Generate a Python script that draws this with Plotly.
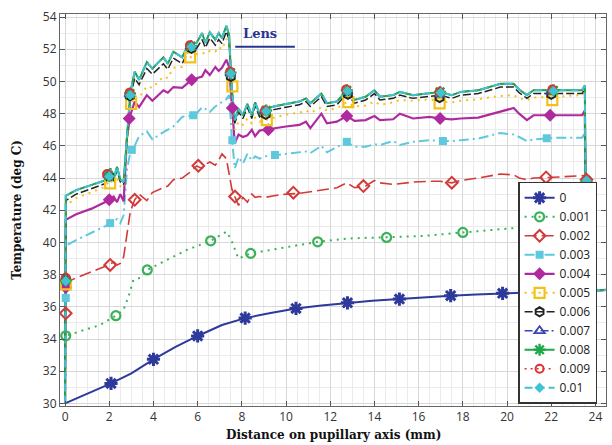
import plotly.graph_objects as go

# ---------------- data ----------------
SERIES_NAMES = ["0", "0.001", "0.002", "0.003", "0.004", "0.005",
                "0.006", "0.007", "0.008", "0.009", "0.01"]

X_TICKS = [0, 2, 4, 6, 8, 10, 12, 14, 16, 18, 20, 22, 24]
Y_TICKS = [30, 32, 34, 36, 38, 40, 42, 44, 46, 48, 50, 52, 54]

X_TITLE = "Distance on pupillary axis (mm)"
Y_TITLE = "Temperature (deg C)"

# series "0"
X_S0 = [0.0, 1.0, 2.08, 3.0, 4.0, 5.0, 6.0, 7.1, 8.15, 9.3, 10.45, 11.6,
        12.78, 13.9, 15.13, 16.3, 17.45, 18.6, 19.8, 21.0, 22.2, 23.6, 24.48]
Y_S0 = [30.0, 30.6, 31.24, 31.87, 32.74, 33.52, 34.19, 34.87, 35.3, 35.62,
        35.9, 36.08, 36.25, 36.38, 36.48, 36.6, 36.69, 36.77, 36.84, 36.9,
        36.95, 37.0, 37.05]

# series "0.001"
X_S1 = [0.0, 0.03, 0.5, 1.58, 2.3, 2.64, 2.87, 3.09, 3.39, 3.72, 4.3, 4.9,
        5.5, 6.59, 7.31, 7.54, 7.84, 8.4, 9.13, 9.87, 11.43, 12.9, 14.55,
        16.2, 18.0, 19.2, 20.4, 22.0, 23.55, 23.6, 24.48]
Y_S1 = [30.0, 34.2, 34.4, 34.87, 35.45, 35.8, 36.63, 37.67, 37.8, 38.29,
        38.7, 39.1, 39.53, 40.1, 40.67, 40.1, 39.0, 39.32, 39.5, 39.7, 40.04,
        40.25, 40.31, 40.4, 40.62, 40.77, 40.9, 41.0, 41.1, 37.0, 37.05]

# shared distance grid for series 0.002 ... 0.01
X_UP = [0.0, 0.03, 0.5, 1.2, 1.8, 2.05, 2.2, 2.35, 2.5, 2.65,
        2.8, 2.95, 3.15, 3.35, 3.7, 3.95, 4.45, 4.65, 4.9, 5.3,
        5.6, 5.95, 6.2, 6.35, 6.55, 6.8, 6.95, 7.1, 7.3, 7.42,
        7.55, 7.68, 7.85, 8.05, 8.25, 8.45, 8.6, 8.8, 9.05, 9.45,
        10.0, 10.6, 10.9, 11.1, 11.6, 11.85, 12.3, 12.75, 13.1, 13.6,
        14.0, 14.25, 14.85, 15.15, 15.75, 16.5, 16.97, 17.5, 17.9, 18.7,
        19.7, 20.3, 20.55, 20.9, 21.2, 22.1, 23.4, 23.52, 23.6, 24.48]

Y_S2 = [30.0, 37.5, 37.8, 38.2, 38.5, 38.65, 38.8, 38.6, 38.7, 39.1,
        40.5, 41.9, 42.65, 43.0, 42.6, 43.1, 43.4, 43.5, 43.9, 44.0,
        44.3, 44.75, 44.6, 44.85, 45.0, 44.8, 45.1, 45.5, 45.2, 44.3,
        43.3, 42.85, 42.3, 42.8, 42.5, 43.0, 42.8, 42.85, 42.8, 42.9,
        43.0, 43.05, 43.1, 43.15, 43.25, 43.3, 43.4, 43.7, 43.4, 43.5,
        43.85, 43.7, 43.6, 43.65, 43.75, 43.8, 43.8, 43.7, 43.85, 44.0,
        44.25, 44.2, 44.0, 43.9, 44.0, 44.05, 44.1, 44.15, 37.0, 37.05]

Y_S3 = [30.0, 39.8, 40.15, 40.6, 41.0, 41.2, 41.3, 41.45, 41.2, 41.7,
        44.5, 45.6, 46.0, 46.6, 46.9, 46.4, 46.85, 47.0, 47.2, 47.8,
        47.85, 48.0, 48.4, 48.3, 48.1, 48.45, 48.6, 48.7, 48.9, 49.15,
        46.5, 44.6, 45.3, 44.9, 45.5, 45.1, 45.35, 45.2, 45.35, 45.4,
        45.5, 45.6, 45.65, 45.55, 46.0, 45.6, 45.9, 46.25, 45.95, 45.95,
        46.1, 46.05, 46.3, 46.05, 46.25, 46.35, 46.3, 46.3, 46.35, 46.45,
        46.8, 46.7, 46.55, 46.3, 46.4, 46.5, 46.5, 46.8, 37.0, 37.05]

Y_S4 = [30.0, 41.4, 41.75, 42.1, 42.5, 42.75, 42.85, 42.5, 43.0, 42.55,
        46.5, 47.9, 48.75, 48.4, 49.15, 48.8, 49.45, 49.3, 49.65, 49.6,
        49.95, 50.2, 50.3, 50.7, 50.4, 50.9, 50.65, 50.85, 51.35, 50.9,
        48.2, 46.15, 46.7, 46.55, 46.65, 47.0, 46.6, 46.95, 47.0, 47.1,
        47.2, 47.3, 47.5, 47.1, 48.0, 47.4, 47.5, 47.85, 47.55, 47.6,
        47.85, 47.6, 47.65, 48.0, 47.7, 47.8, 47.7, 47.65, 47.7, 47.75,
        48.1, 48.35, 48.0, 47.6, 47.9, 47.9, 47.9, 48.2, 37.0, 37.05]

Y_S5 = [30.0, 42.3, 42.75, 43.15, 43.45, 43.9, 43.55, 44.0, 43.5, 43.4,
        45.8, 48.5, 49.1, 49.0, 49.7, 49.6, 50.3, 50.2, 50.85, 50.9,
        51.45, 51.7, 51.8, 51.7, 51.9, 51.85, 52.15, 52.0, 52.65, 52.2,
        49.0, 47.0, 47.5, 47.3, 47.7, 47.4, 47.75, 47.5, 47.6, 47.75,
        47.95, 48.05, 48.2, 48.05, 48.4, 48.2, 48.35, 48.7, 48.45, 48.5,
        48.75, 48.55, 48.7, 48.85, 48.8, 48.9, 48.75, 48.7, 48.8, 48.9,
        49.1, 49.15, 48.95, 48.85, 49.0, 49.05, 49.15, 49.4, 37.0, 37.05]

Y_S6 = [30.0, 42.6, 43.0, 43.35, 43.65, 44.4, 43.8, 44.5, 43.75, 43.6,
        46.2, 49.0, 50.2, 49.8, 50.8, 50.45, 51.1, 50.75, 51.45, 51.1,
        52.0, 52.05, 52.6, 52.1, 52.7, 52.25, 52.6, 52.35, 53.1, 52.6,
        49.3, 47.4, 48.1, 47.7, 48.4, 47.7, 48.5, 47.8, 48.05, 48.25,
        48.4, 48.55, 48.75, 48.45, 49.05, 48.45, 48.55, 49.25, 48.65, 48.85,
        49.25, 48.85, 48.95, 49.15, 48.95, 49.1, 49.15, 48.95, 49.15, 49.25,
        49.65, 49.65, 49.3, 48.95, 49.25, 49.25, 49.25, 49.55, 37.0, 37.05]

# series 0.007 ... 0.01 lie on top of each other (the top curve)
Y_TOP = [30.0, 42.9, 43.25, 43.55, 43.85, 44.6, 43.95, 44.7, 43.9, 43.75,
         46.5, 49.3, 50.6, 50.1, 51.2, 50.8, 51.5, 51.1, 51.85, 51.5,
         52.35, 52.4, 53.0, 52.4, 53.05, 52.6, 53.0, 52.7, 53.45, 52.9,
         49.5, 47.6, 48.3, 47.9, 48.6, 47.9, 48.7, 48.0, 48.25, 48.45,
         48.6, 48.75, 48.95, 48.65, 49.25, 48.65, 48.75, 49.45, 48.85, 49.05,
         49.45, 49.05, 49.15, 49.35, 49.15, 49.3, 49.35, 49.15, 49.35, 49.45,
         49.85, 49.85, 49.5, 49.15, 49.45, 49.45, 49.45, 49.75, 37.0, 37.05]

# marker points of each series
MX = {
    "0":     [2.08, 4.0, 6.0, 8.15, 10.45, 12.78, 15.13, 17.45, 19.8, 22.2],
    "0.001": [0.03, 2.3, 3.72, 6.59, 8.4, 11.43, 14.55, 18.0, 21.3],
    "0.002": [0.03, 2.04, 3.15, 6.03, 7.69, 10.33, 13.5, 17.5, 21.77, 23.6],
    "0.003": [0.03, 2.04, 3.02, 5.8, 7.57, 9.5, 12.75, 17.1, 21.8, 23.6],
    "0.004": [0.03, 2.0, 2.9, 5.73, 7.57, 9.2, 12.75, 16.97, 21.95, 23.6],
    "0.005": [0.03, 2.04, 2.99, 5.66, 7.57, 9.13, 12.82, 16.95, 22.05, 23.6],
    "0.006": [0.03, 2.0, 2.93, 5.72, 7.5, 9.08, 12.8, 16.95, 22.0, 23.6],
    "0.007": [0.03, 1.95, 2.92, 5.68, 7.48, 9.05, 12.78, 16.95, 22.0, 23.6],
    "0.008": [0.03, 1.97, 2.94, 5.7, 7.49, 9.1, 12.75, 16.97, 22.1, 23.6],
    "0.009": [0.03, 1.9, 2.92, 5.65, 7.47, 9.05, 12.72, 16.95, 22.05, 23.6],
    "0.01":  [0.03, 2.0, 2.95, 5.72, 7.5, 9.1, 12.78, 17.0, 22.1, 23.6],
}
MY = {
    "0":     [31.24, 32.74, 34.19, 35.3, 35.9, 36.25, 36.48, 36.69, 36.84, 36.95],
    "0.001": [34.2, 35.45, 38.29, 40.1, 39.32, 40.04, 40.31, 40.62, 40.95],
    "0.002": [35.6, 38.6, 42.65, 44.76, 42.85, 43.09, 43.5, 43.71, 44.04, 43.9],
    "0.003": [36.55, 41.2, 45.75, 47.9, 46.35, 45.43, 46.25, 46.3, 46.47, 43.75],
    "0.004": [37.2, 42.65, 47.7, 50.1, 48.35, 47.0, 47.85, 47.7, 47.9, 43.2],
    "0.005": [37.4, 43.67, 48.6, 51.5, 49.7, 47.6, 48.72, 48.64, 48.84, 43.45],
    "0.006": [37.7, 44.1, 49.1, 52.05, 50.3, 47.95, 49.2, 49.0, 49.2, 43.7],
    "0.007": [37.75, 44.2, 49.2, 52.15, 50.5, 48.15, 49.35, 49.2, 49.35, 43.8],
    "0.008": [37.65, 44.15, 49.25, 52.2, 50.55, 48.2, 49.45, 49.35, 49.45, 43.8],
    "0.009": [37.8, 44.25, 49.3, 52.25, 50.6, 48.2, 49.5, 49.35, 49.5, 43.9],
    "0.01":  [37.6, 44.1, 49.15, 52.15, 50.5, 48.15, 49.4, 49.3, 49.4, 43.85],
}

LENS_LABEL = "Lens"
LENS_X = [7.7, 10.4]
LENS_Y = 52.15
LENS_TEXT_POS = (8.8, 52.95)

# ---------------- styles ----------------
LINES = {
    "0":     (X_S0, Y_S0),
    "0.001": (X_S1, Y_S1),
    "0.002": (X_UP, Y_S2),
    "0.003": (X_UP, Y_S3),
    "0.004": (X_UP, Y_S4),
    "0.005": (X_UP, Y_S5),
    "0.006": (X_UP, Y_S6),
    "0.007": (X_UP, Y_TOP),
    "0.008": (X_UP, Y_TOP),
    "0.009": (X_UP, Y_TOP),
    "0.01":  (X_UP, Y_TOP),
}

STYLE = {
    "0":     dict(color="#2e3a9b", dash="solid", width=2.0, symbol="asterisk-open", size=11, mlw=3.0),
    "0.001": dict(color="#3bb25a", dash="2px,5px", width=2.0, symbol="circle-open", size=9, mlw=2.2),
    "0.002": dict(color="#d23a3a", dash="12px,5px", width=1.6, symbol="diamond-open", size=9, mlw=2.0),
    "0.003": dict(color="#5ec8dc", dash="10px,4px,2px,4px", width=2.0, symbol="square", size=8, mlw=0),
    "0.004": dict(color="#b02a9f", dash="solid", width=2.2, symbol="diamond", size=10, mlw=0),
    "0.005": dict(color="#f2c21b", dash="2px,5px", width=2.0, symbol="square-open", size=10, mlw=2.2),
    "0.006": dict(color="#222222", dash="8px,3px", width=1.5, symbol="hexagon-open", size=9, mlw=2.0),
    "0.007": dict(color="#3a44b0", dash="8px,3px,2px,3px", width=1.5, symbol="triangle-up-open", size=9, mlw=1.8),
    "0.008": dict(color="#1fa84a", dash="solid", width=2.0, symbol="asterisk-open", size=10, mlw=2.4),
    "0.009": dict(color="#e03030", dash="2px,4px", width=1.5, symbol="circle-open", size=8, mlw=2.0),
    "0.01":  dict(color="#3fc3d3", dash="8px,4px", width=2.0, symbol="diamond", size=8, mlw=0),
}

fig = go.Figure()

# curves
for name in SERIES_NAMES:
    xs, ys = LINES[name]
    s = STYLE[name]
    fig.add_trace(go.Scatter(
        x=xs, y=ys, mode="lines", showlegend=False, hoverinfo="skip",
        line=dict(color=s["color"], dash=s["dash"], width=s["width"]),
    ))

# markers
for name in SERIES_NAMES:
    s = STYLE[name]
    fig.add_trace(go.Scatter(
        x=MX[name], y=MY[name], mode="markers", showlegend=False, hoverinfo="skip",
        marker=dict(symbol=s["symbol"], size=s["size"], color=s["color"],
                    line=dict(color=s["color"], width=s["mlw"])),
    ))

# legend entries
for name in SERIES_NAMES:
    s = STYLE[name]
    fig.add_trace(go.Scatter(
        x=[None], y=[None], mode="lines+markers", name=name,
        line=dict(color=s["color"], dash=s["dash"], width=s["width"]),
        marker=dict(symbol=s["symbol"], size=s["size"], color=s["color"],
                    line=dict(color=s["color"], width=s["mlw"])),
    ))

# Lens annotation
fig.add_shape(type="line", x0=LENS_X[0], x1=LENS_X[1], y0=LENS_Y, y1=LENS_Y,
              xref="x", yref="y", line=dict(color="#2b3590", width=2))
fig.add_annotation(x=LENS_TEXT_POS[0], y=LENS_TEXT_POS[1], xref="x", yref="y",
                   text="<b>" + LENS_LABEL + "</b>", showarrow=False,
                   font=dict(family="DejaVu Serif", size=13, color="#2b3590"))

# axis titles
title_font = dict(family="DejaVu Serif", size=12, color="#111111")
fig.add_annotation(x=0.5, y=-0.074, xref="paper", yref="paper",
                   xanchor="center", yanchor="middle", showarrow=False,
                   text="<b>" + X_TITLE + "</b>", font=title_font)
fig.add_annotation(x=-0.079, y=0.5, xref="paper", yref="paper",
                   xanchor="center", yanchor="middle", showarrow=False, textangle=-90,
                   text="<b>" + Y_TITLE + "</b>", font=title_font)

axis_common = dict(
    showline=True, linecolor="#666666", linewidth=1, mirror="ticks",
    ticks="inside", ticklen=5, tickcolor="#555555", tickwidth=1,
    showgrid=True, gridcolor="#d8d8d8", gridwidth=1, zeroline=False,
    tickfont=dict(family="Open Sans", size=12, color="#333333"),
    automargin=False,
)

fig.update_layout(
    width=612, height=445,
    margin=dict(l=60, r=6, t=14, b=39),
    paper_bgcolor="white", plot_bgcolor="white",
    showlegend=True,
    legend=dict(x=0.839, xanchor="left", y=0.572, yanchor="top",
                bgcolor="white", bordercolor="#333333", borderwidth=1.5,
                font=dict(family="Open Sans", size=12, color="#222222"),
                tracegroupgap=0, itemwidth=30),
    xaxis=dict(axis_common, range=[-0.23, 24.48], tickvals=X_TICKS,
               minor=dict(dtick=0.5, tick0=0, showgrid=True, gridcolor="#ebebeb", ticks="")),
    yaxis=dict(axis_common, range=[29.84, 54.19], tickvals=Y_TICKS,
               minor=dict(dtick=1, tick0=0, showgrid=True, gridcolor="#ebebeb", ticks="")),
)

fig.write_html(
    "out.html",
    config={"displayModeBar": False},
    post_script="document.body.style.margin='0';document.body.style.padding='0';"
                "document.body.style.overflow='hidden';",
)
